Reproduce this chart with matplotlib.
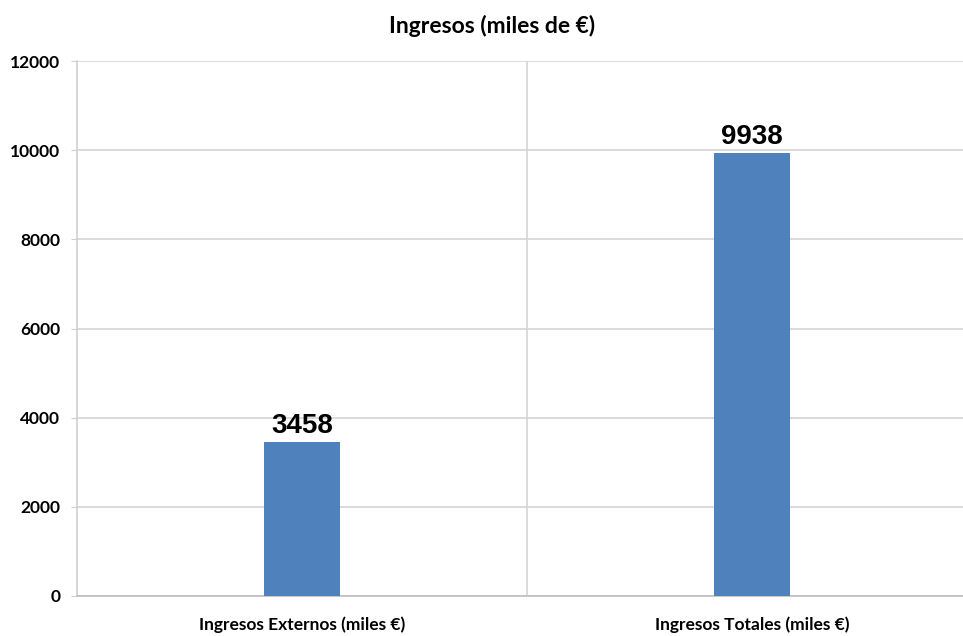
import matplotlib.pyplot as plt
import numpy as np

# data
categories = ["Ingresos Externos (miles €)", "Ingresos Totales (miles €)"]
values = [3458, 9938]
y_ticks = [0, 2000, 4000, 6000, 8000, 10000, 12000]

fig = plt.figure(figsize=(9.63, 6.36), dpi=100)
# axes reach a little past the right edge, like the cropped original
ax = fig.add_axes([77 / 963, 1 - 596 / 636, 900 / 963, 535 / 636])

x = np.arange(len(categories))
ax.bar(x, values, width=0.167, color="#4F81BD", zorder=3)

for xi, v in zip(x, values):
    ax.text(xi, v + 60, str(v), ha="center", va="bottom",
            fontsize=20, fontweight="bold", family="Liberation Sans", zorder=4)

ax.set_xlim(-0.5, len(categories) - 0.5)
ax.set_ylim(0, 12000)
ax.set_yticks(y_ticks)
ax.set_xticks(x)
ax.set_xticklabels(categories, family="Lato", fontweight="bold", fontsize=12.5)
for lbl in ax.get_yticklabels():
    lbl.set_family("Lato")
    lbl.set_fontweight("bold")
    lbl.set_fontsize(12.5)

ax.yaxis.grid(True, color="#d4d4d4", linewidth=1.2, zorder=0)
# separator between the two categories
ax.axvline(0.5, color="#d4d4d4", linewidth=1.2, zorder=0)

for side in ["top", "right"]:
    ax.spines[side].set_visible(False)
ax.spines["left"].set_color("#cfcfcf")
ax.spines["bottom"].set_color("#bdbdbd")
ax.spines["left"].set_linewidth(1.2)
ax.spines["bottom"].set_linewidth(1.2)
ax.tick_params(axis="y", length=4, color="#cfcfcf", pad=8)
ax.tick_params(axis="x", length=0, pad=15)

fig.text(492 / 963, 1 - 26 / 636, "Ingresos (miles de €)", ha="center", va="center",
         family="Lato", fontweight="bold", fontsize=16.5)

fig.savefig("out.png", dpi=100)
